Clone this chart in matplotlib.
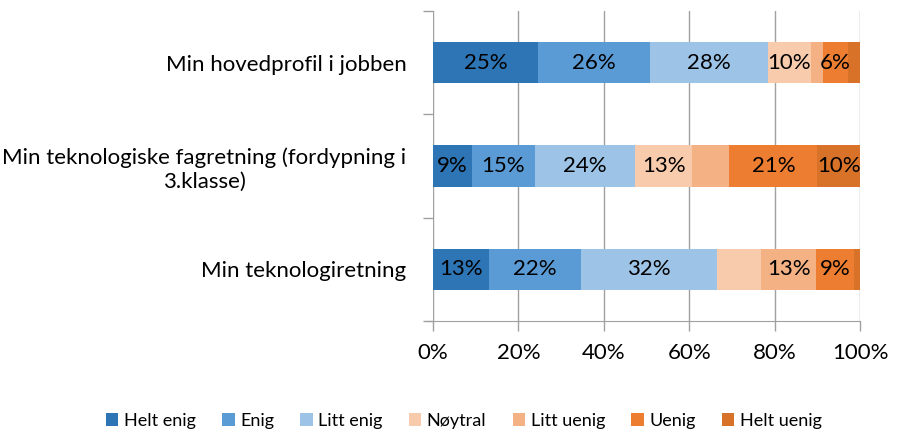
import numpy as np
import matplotlib.pyplot as plt
from matplotlib.ticker import PercentFormatter

plt.rcParams['font.family'] = ['Lato', 'DejaVu Sans']

categories = ["Min hovedprofil i jobben",
              "Min teknologiske fagretning (fordypning i\n3.klasse)",
              "Min teknologiretning"]
series = ["Helt enig", "Enig", "Litt enig", "Nøytral", "Litt uenig", "Uenig", "Helt uenig"]
colors = ["#2E75B6", "#5B9BD5", "#9DC3E6", "#F8CBAD", "#F4B183", "#ED7D31", "#D87228"]

# shares (%) per category, one list per series
helt_enig = [24.6, 9.2, 13.0]
enig = [26.2, 14.6, 21.7]
litt_enig = [27.6, 23.6, 31.9]
noytral = [10.1, 13.3, 10.2]
litt_uenig = [2.8, 8.7, 13.0]
uenig = [5.8, 20.6, 8.8]
helt_uenig = [2.9, 10.0, 1.4]
values = [helt_enig, enig, litt_enig, noytral, litt_uenig, uenig, helt_uenig]

# which segments carry a data label in the original
shown = [[True, True, True],
         [True, True, True],
         [True, True, True],
         [True, True, False],
         [False, False, True],
         [True, True, True],
         [False, True, False]]

fig = plt.figure(figsize=(8.97, 4.33), dpi=100)
ax = fig.add_axes([433/897, 1 - 321/433, (860 - 433)/897, 310/433])

y = np.arange(len(categories))
left = np.zeros(len(categories))
for name, vals, col, sh in zip(series, values, colors, shown):
    vals = np.array(vals)
    ax.barh(y, vals, left=left, height=0.4, color=col, label=name, zorder=3)
    for i in range(len(categories)):
        if sh[i]:
            ax.text(left[i] + vals[i] / 2, y[i], f"{int(vals[i] + 0.5)}%",
                    ha='center', va='center', fontsize=16, color='black', zorder=4)
    left += vals

ax.set_xlim(0, 100)
ax.set_ylim(2.5, -0.5)
ax.set_xticks(np.arange(0, 101, 20))
ax.xaxis.set_major_formatter(PercentFormatter(decimals=0))
ax.set_yticks(y)
ax.set_yticklabels(categories, multialignment='center')
ax.set_yticks([-0.5, 0.5, 1.5, 2.5], minor=True)
ax.tick_params(axis='y', which='major', length=0, pad=19, labelsize=16)
ax.tick_params(axis='y', which='minor', length=7, color='#A0A0A0', width=1)
ax.tick_params(axis='x', length=7, color='#A0A0A0', width=1, labelsize=16, pad=9)

ax.grid(axis='x', color='#A0A0A0', linewidth=1, zorder=0)
for s in ['top', 'right', 'left']:
    ax.spines[s].set_visible(False)
ax.spines['bottom'].set_color('#A0A0A0')
ax.spines['bottom'].set_bounds(-1.6, 100)
ax.spines['bottom'].set_clip_on(False)

fig.legend(loc='center', bbox_to_anchor=(0.517, 1 - 421/433), ncol=7, frameon=False,
           fontsize=13, handlelength=0.7, handleheight=0.7, handletextpad=0.3,
           columnspacing=1.45)

fig.savefig("out.png", dpi=100)
